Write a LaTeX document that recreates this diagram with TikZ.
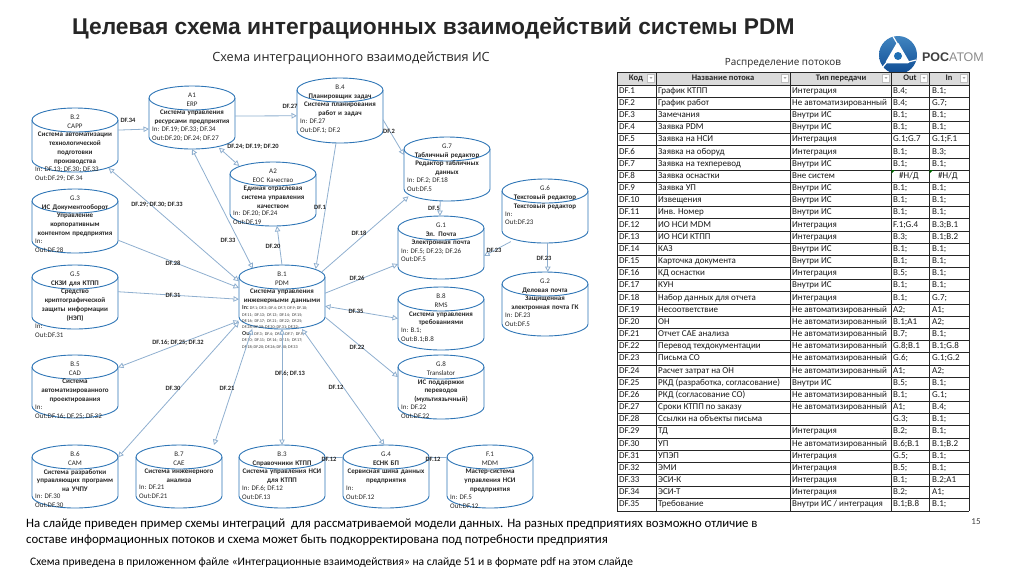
\documentclass[tikz,border=0pt]{standalone}
\usepackage{fontspec}
\setmainfont{Carlito}
\newfontfamily\titlefont{Liberation Sans}
\newfontfamily\openfont{Open Sans}
\usetikzlibrary{arrows.meta,calc}
\definecolor{StoreBlue}{HTML}{2E75B6}
\definecolor{FlowBlue}{HTML}{8FAFCF}
\definecolor{RosBlue}{HTML}{1F6FB5}
\definecolor{RosDark}{HTML}{0F4C93}
\tikzset{
  storebox/.style={
    rectangle,minimum width=86pt,inner sep=0pt,outer sep=0pt
  },
  storeline/.style={draw=StoreBlue,line width=0.9pt},
  storetop/.style={
    anchor=north,font=\fontsize{7}{8.8}\selectfont,align=center,text width=82pt,
    inner sep=0pt,text=black!85
  },
  storeio/.style={
    anchor=north west,font=\fontsize{7}{8.8}\selectfont,align=left,
    inner sep=0pt,text=black!85
  },
  flow/.style={
    draw=FlowBlue,line width=0.8pt,-{Triangle[open,length=5.5pt,width=5.5pt,fill=white]}
  },
  flowboth/.style={
    flow,{Triangle[open,length=5.5pt,width=5.5pt,fill=white]}-{Triangle[open,length=5.5pt,width=5.5pt,fill=white]}
  },
  flowplain/.style={draw=FlowBlue,line width=0.8pt},
  flowlabel/.style={
    font=\bfseries\fontsize{6.5}{7}\selectfont,inner sep=0.4pt,text=black!85
  },
  cellhead/.style={font=\bfseries\fontsize{8.5}{9}\selectfont,inner sep=0pt,text=black!85},
  cell/.style={anchor=west,font=\fontsize{9}{9}\selectfont,inner sep=0pt,text=black!90,text height=5.8pt,text depth=1.6pt},
  tablerule/.style={line width=0.8pt,draw=black!85},
  filterbox/.style={draw=black!25,line width=0.3pt,fill=white,minimum width=7pt,minimum height=8pt,inner sep=0pt}
}
% name, centre x, top y, height, centred lines, left lines
\newcommand{\DrawStore}[6]{%
  \node[storebox,minimum height=#4pt] (#1) at (#2,#3+#4/2) {};
  \draw[storeline] (#2,#3+12) ellipse [x radius=43pt,y radius=12pt];
  \draw[storeline] ($(#1.north west)+(0,12)$) -- ($(#1.south west)+(0,-12)$)
    arc[start angle=180,end angle=360,x radius=43pt,y radius=12pt] -- ($(#1.north east)+(0,12)$);
  \node[storetop] (#1t) at (#2,#3+6.5) {#5};
  \node[storeio] (#1i) at ($(#1t.south)+(-40,2)$) {#6};
}
\newcommand{\DrawFilter}[1]{%
  \node[filterbox] (f#1) at (#1,78) {};
  \fill[black!35] (#1-1.5,77) -- (#1+1.5,77) -- (#1,79) -- cycle;
}
\begin{document}
\begin{tikzpicture}[x=1pt,y=-1pt]
  \useasboundingbox (0,0) rectangle (1024,574);

  \node[font=\titlefont\bfseries\fontsize{22.8}{24}\selectfont,text=black!85,anchor=west,inner sep=0pt] (title) at (72,28)
    {Целевая схема интеграционных взаимодействий системы PDM};
  \node[font=\openfont\fontsize{12.7}{14}\selectfont,text=black!85,inner sep=0pt] (subtitle) at (351,58)
    {Схема интеграционного взаимодействия ИС};
  \node[font=\openfont\fontsize{9.9}{11}\selectfont,text=black!85,inner sep=0pt] (tablename) at (783,63)
    {Распределение потоков};

  % logo
  \shade[top color=RosBlue!85,bottom color=RosDark] (898,55) circle (19);
  \fill[white,draw=white,line width=2.5pt,line join=round] (897.5,44) -- (908,62) -- (887,62) -- cycle;
  \draw[white,line width=1.2pt] (897.5,44) -- (893,36.5) (908,62) -- (916,60) (887,62) -- (882,68);
  \fill[RosBlue] (898,56) circle (4);
  \node[anchor=west,inner sep=0pt,font=\titlefont\fontsize{12.5}{14}\selectfont,text=black!45] (logotext) at (922,57)
    {\textcolor{black!75}{\bfseries РОС}АТОМ};

  % stores
  \DrawStore{B2}{75}{108}{64}{B.2\\CAPP\\\textbf{Система автоматизации}\\\textbf{технологической}\\\textbf{подготовки}\\\textbf{производства}}{In: DF.13; DF.30; DF.33\\Out:DF.29; DF.34}
  \DrawStore{A1}{192}{86}{63}{A1\\ERP\\\textbf{Система управления}\\\textbf{ресурсами предприятия}}{In: DF.19; DF.33; DF.34\\Out:DF.20; DF.24; DF.27}
  \DrawStore{B4}{340}{78}{65}{B.4\\\textbf{Планировщик задач}\\\textbf{Система планирования}\\\textbf{работ и задач}}{In: DF.27\\Out:DF.1; DF.2}
  \DrawStore{G3}{75}{189}{64}{G.3\\\textbf{ИС Документооборот}\\\textbf{Управление}\\\textbf{корпоративным}\\\textbf{контентом предприятия}}{In:\\Out:DF.28}
  \DrawStore{A2}{273}{162}{64}{A2\\ЕОС Качество\\\textbf{Единая отраслевая}\\\textbf{система управления}\\\textbf{качеством}}{In: DF.20; DF.24\\Out:DF.19}
  \DrawStore{G7}{447}{137}{64}{G.7\\\textbf{Табличный редактор}\\\textbf{Редактор табличных}\\\textbf{данных}}{In: DF.2; DF.18\\Out:DF.5}
  \DrawStore{G6}{545}{179}{64}{G.6\\\textbf{Текстовый редактор}\\\textbf{Текстовый редактор}}{In:\\Out:DF.23}
  \DrawStore{G1}{441}{216}{63}{G.1\\\textbf{Эл. Почта}\\\textbf{Электронная почта}}{In: DF.5; DF.23; DF.26\\Out:DF.5}
  \DrawStore{G5}{75}{265}{64}{G.5\\\textbf{СКЗИ для КТПП}\\\textbf{Средство}\\\textbf{криптографической}\\\textbf{защиты информации}\\\textbf{(НЭП)}}{In:\\Out:DF.31}
  \DrawStore{B5}{75}{355}{63}{B.5\\CAD\\\textbf{Система}\\\textbf{автоматизированного}\\\textbf{проектирования}}{In:\\Out:DF.16; DF.25; DF.32}
  \DrawStore{B8}{441}{287}{63}{B.8\\RMS\\\textbf{Система управления}\\\textbf{требованиями}}{In: B.1;\\Out:B.1;B.8}
  \DrawStore{G2}{545}{272}{64}{G.2\\\textbf{Деловая почта}\\\textbf{Защищенная}\\\textbf{электронная почта ГК}}{In: DF.23\\Out:DF.5}
  \DrawStore{G8}{441}{355}{64}{G.8\\Translator\\\textbf{ИС поддержки}\\\textbf{переводов}\\\textbf{(мультиязычный)}}{In: DF.22\\Out:DF.22}
  \DrawStore{B6}{75}{445}{63}{B.6\\CAM\\\textbf{Система разработки}\\\textbf{управляющих программ}\\\textbf{на УЧПУ}}{In: DF.30\\Out:DF.30}
  \DrawStore{B7}{179}{445}{63}{B.7\\CAE\\\textbf{Система инженерного}\\\textbf{анализа}}{In: DF.21\\Out:DF.21}
  \DrawStore{B3}{282}{445}{63}{B.3\\\textbf{Справочники КТПП}\\\textbf{Система управления НСИ}\\\textbf{для КТПП}}{In: DF.6; DF.12\\Out:DF.13}
  \DrawStore{G4}{386}{445}{63}{G.4\\\textbf{ЕСНК БП}\\\textbf{Сервисная шина данных}\\\textbf{предприятия}}{In:\\Out:DF.12}
  \DrawStore{F1}{490}{445}{63}{F.1\\MDM\\\textbf{Мастер-система}\\\textbf{управления НСИ}\\\textbf{предприятия}}{In: DF.5\\Out:DF.12}

  % B.1 is the hub
  \DrawStore{B1}{282}{265}{64}{B.1\\PDM\\\textbf{Система управления}\\\textbf{инженерными данными}}{}
  \node[anchor=north west,inner sep=0pt,font=\fontsize{4.2}{6.4}\selectfont,text=black!80] (B1list) at (242,305)
    {\begin{tabular}{@{}l@{}}
     \textbf{\fontsize{6}{6}\selectfont In:} DF.1; DF.3; DF.4; DF.7; DF.9; DF.10;\\
     DF.11;\ \ DF.13;\ \ DF.13;\ \ DF.14;\ \ DF.15;\\
     DF.16;\ \ DF.17;\ \ DF.21;\ \ DF.22;\ \ DF.25;\\
     DF.28; DF.29; DF.30; DF.31; DF.32;\\
     \textbf{\fontsize{6}{6}\selectfont Out:} DF.3;\ \ DF.4;\ \ DF.6;\ \ DF.7;\ \ DF.9;\\
     DF.10;\ \ DF.11;\ \ DF.14;\ \ DF.15;\ \ DF.17;\\
     DF.18; DF.20; DF.26; DF.30; DF.33
     \end{tabular}};

  % flows
  \draw[flow] (B2.13) -- (A1.195);
  \draw[flow] (A1.2) -- (B4.187);
  \draw[flow] (B4.-12) -- (G7.162);
  \draw[flow,shorten >=-4pt] (B4.-97) -- (B1.43);
  \draw[flowboth,shorten <=-2pt,shorten >=-6pt] (A1.-48) -- (A2.140);
  \draw[flow] (B1.90) -- (A2.-83);
  \draw[flowboth,shorten >=-4pt] (A1.-90) -- (B1.134);
  \draw[flowboth,shorten <=-6pt] (B2.-40) -- (B1.160);
  \draw[flow] (G3.-24) -- (B1.168);
  \draw[flow] (G5.7) -- (B1.183);
  \draw[flowboth] (B1.209) -- (B5.24);
  \draw[flowboth] (B1.210) -- (B6.24);
  \draw[flowboth] (B1.-133) -- (B7.42);
  \draw[flowboth] (B1.-90) -- (B3.90);
  \draw[flowboth] (B1.-58) -- (G4.93);
  \draw[flow] (B1.-25) -- (G8.167);
  \draw[flowboth] (B1.-12) -- (B8.180);
  \draw[flow] (B1.5) -- (G1.201);
  \draw[flow,shorten <=-4pt,shorten >=-6pt] (B1.33) -- (G7.216);
  \draw[flow] (G7.-102) -- (G1.92);
  \draw[flow,shorten <=-3pt] (G6.221) -- (G1.-11);
  \draw[flow] (G6.-85) -- (G2.85);
  \draw[flowplain] (B3.24) -- (G4.156);
  \draw[flowplain] (G4.24) -- (F1.156);

  % flow labels
  \node[flowlabel] (l34) at (128,120) {DF.34};
  \node[flowlabel] (l27) at (290,106) {DF.27};
  \node[flowlabel] (l2) at (389,131) {DF.2};
  \node[flowlabel] (l1) at (320,207) {DF.1};
  \node[flowlabel] (l24) at (253,147) {DF.24; DF.19; DF.20};
  \node[flowlabel] (l20) at (273,246) {DF.20};
  \node[flowlabel] (l33) at (228,240) {DF.33};
  \node[flowlabel] (l29) at (157,205) {DF.29; DF.30; DF.33};
  \node[flowlabel] (l28) at (173,263) {DF.28};
  \node[flowlabel] (l31) at (173,295) {DF.31};
  \node[flowlabel] (l16) at (178,343) {DF.16; DF.25; DF.32};
  \node[flowlabel] (l30) at (173,388) {DF.30};
  \node[flowlabel] (l21) at (227,388) {DF.21};
  \node[flowlabel] (l6) at (290,374) {DF.6; DF.13};
  \node[flowlabel] (l12) at (336,387) {DF.12};
  \node[flowlabel] (l22) at (357,347) {DF.22};
  \node[flowlabel] (l35) at (356,311) {DF.35};
  \node[flowlabel] (l26) at (357,278) {DF.26};
  \node[flowlabel] (l18) at (359,233) {DF.18};
  \node[flowlabel] (l5) at (434,208) {DF.5};
  \node[flowlabel] (l23a) at (494,250) {DF.23};
  \node[flowlabel] (l23b) at (544,258) {DF.23};
  \node[flowlabel] (l12a) at (329,459) {DF.12};
  \node[flowlabel] (l12b) at (433,459) {DF.12};

  % table
  \fill[black!14] (617,72) rectangle (969,85);
  \node[cellhead] (hKod) at (636,78) {Код};
  \node[cellhead] (hName) at (723,78) {Название потока};
  \node[cellhead] (hType) at (841,78) {Тип передачи};
  \node[cellhead] (hOut) at (910,78) {Out};
  \node[cellhead] (hIn) at (949,78) {In};
  \foreach \fx in {651,785,886,924,964} {
    \DrawFilter{\fx}
  }
  \foreach \rKod/\rName/\rType/\rOut/\rIn [count=\r] in {
    DF.1/График КТПП/Интеграция/B.4;/B.1;,
    DF.2/График работ/Не автоматизированный/B.4;/G.7;,
    DF.3/Замечания/Внутри ИС/B.1;/B.1;,
    DF.4/Заявка PDM/Внутри ИС/B.1;/B.1;,
    DF.5/Заявка на НСИ/Интеграция/G.1;G.7/G.1;F.1,
    DF.6/Заявка на оборуд/Интеграция/B.1;/B.3;,
    DF.7/Заявка на техперевод/Внутри ИС/B.1;/B.1;,
    DF.8/Заявка оснастки/Вне систем/{\hspace{6pt}\#Н/Д}/{\hspace{6pt}\#Н/Д},
    DF.9/Заявка УП/Внутри ИС/B.1;/B.1;,
    DF.10/Извещения/Внутри ИС/B.1;/B.1;,
    DF.11/Инв. Номер/Внутри ИС/B.1;/B.1;,
    DF.12/ИО НСИ MDM/Интеграция/F.1;G.4/B.3;B.1,
    DF.13/ИО НСИ КТПП/Интеграция/B.3;/B.1;B.2,
    DF.14/КАЗ/Внутри ИС/B.1;/B.1;,
    DF.15/Карточка документа/Внутри ИС/B.1;/B.1;,
    DF.16/КД оснастки/Интеграция/B.5;/B.1;,
    DF.17/КУН/Внутри ИС/B.1;/B.1;,
    DF.18/Набор данных для отчета/Интеграция/B.1;/G.7;,
    DF.19/Несоответствие/Не автоматизированный/A2;/A1;,
    DF.20/ОН/Не автоматизированный/B.1;A1/A2;,
    DF.21/Отчет CAE анализа/Не автоматизированный/B.7;/B.1;,
    DF.22/Перевод техдокументации/Не автоматизированный/G.8;B.1/B.1;G.8,
    DF.23/Письма СО/Не автоматизированный/G.6;/G.1;G.2,
    DF.24/Расчет затрат на ОН/Не автоматизированный/A1;/A2;,
    DF.25/{РКД (разработка, согласование)}/Внутри ИС/B.5;/B.1;,
    DF.26/РКД (согласование СО)/Не автоматизированный/B.1;/G.1;,
    DF.27/Сроки КТПП по заказу/Не автоматизированный/A1;/B.4;,
    DF.28/Ссылки на объекты письма//G.3;/B.1;,
    DF.29/ТД/Интеграция/B.2;/B.1;,
    DF.30/УП/Не автоматизированный/B.6;B.1/B.1;B.2,
    DF.31/УПЭП/Интеграция/G.5;/B.1;,
    DF.32/ЭМИ/Интеграция/B.5;/B.1;,
    DF.33/ЭСИ-К/Интеграция/B.1;/B.2;A1,
    DF.34/ЭСИ-Т/Интеграция/B.2;/A1;,
    DF.35/Требование/{Внутри ИС / интеграция}/B.1;B.8/B.1;
  } {
    \pgfmathsetmacro{\Ycell}{85+(\r-0.5)*12.17}
    \node[cell] (kod\r) at (619,\Ycell) {\rKod};
    \node[cell] (name\r) at (658,\Ycell) {\rName};
    \node[cell] (type\r) at (792,\Ycell) {\rType};
    \node[cell] (out\r) at (893,\Ycell) {\rOut};
    \node[cell] (in\r) at (932,\Ycell) {\rIn};
  }
  \foreach \Lx in {617,656,790,891,929,969} {
    \draw[tablerule] (\Lx,72) -- (\Lx,511);
  }
  \draw[tablerule] (617,72) -- (969,72);
  \foreach \r in {0,...,35} {
    \pgfmathsetmacro{\Yrule}{85+\r*12.17}
    \draw[tablerule] (617,\Yrule) -- (969,\Yrule);
  }
  \fill[green!40!black] (891.5,170) -- (895,170) -- (891.5,173.5) -- cycle;
  \fill[green!40!black] (929.5,170) -- (933,170) -- (929.5,173.5) -- cycle;

  % notes
  \node[anchor=west,inner sep=0pt,font=\fontsize{12.8}{16}\selectfont,align=left,text=black] (note) at (26,532)
    {На слайде приведен пример схемы интеграций\ \ для рассматриваемой модели данных. На разных предприятиях возможно отличие в\\
     составе информационных потоков и схема может быть подкорректирована под потребности предприятия};
  \node[anchor=west,inner sep=0pt,font=\fontsize{11.5}{12}\selectfont,text=black] (source) at (30,562)
    {Схема приведена в приложенном файле «Интеграционные взаимодействия» на слайде 51 и в формате pdf на этом слайде};
  \node[inner sep=0pt,font=\fontsize{9}{10}\selectfont,text=black!75] (pagenum) at (976,522) {15};
\end{tikzpicture}
\end{document}
